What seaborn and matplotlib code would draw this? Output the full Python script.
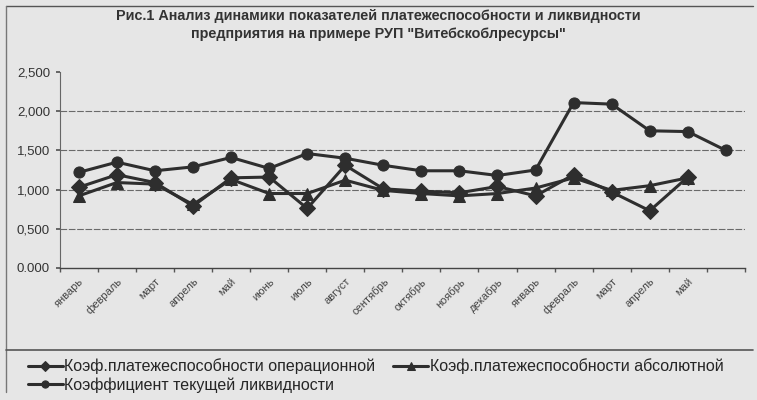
import numpy as np
import pandas as pd
import seaborn as sns
import matplotlib.pyplot as plt
from matplotlib.lines import Line2D
from matplotlib.ticker import FixedLocator

months = ["январь", "февраль", "март", "апрель", "май", "июнь", "июль", "август",
          "сентябрь", "октябрь", "ноябрь", "декабрь", "январь", "февраль", "март",
          "апрель", "май", ""]

oper = [1.03, 1.19, 1.09, 0.79, 1.15, 1.16, 0.76, 1.31, 1.01, 0.98, 0.96, 1.04,
        0.92, 1.19, 0.97, 0.73, 1.16, np.nan]
absol = [0.92, 1.09, 1.07, 0.81, 1.13, 0.95, 0.95, 1.12, 0.99, 0.95, 0.92, 0.95,
         1.02, 1.15, 0.99, 1.05, 1.15, np.nan]
liq = [1.22, 1.35, 1.24, 1.29, 1.41, 1.27, 1.46, 1.40, 1.31, 1.24, 1.24, 1.18,
       1.25, 2.11, 2.09, 1.75, 1.74, 1.50]

names = ["Коэф.платежеспособности операционной",
         "Коэф.платежеспособности абсолютной",
         "Коэффициент текущей ликвидности"]

y_ticks = [0, 0.5, 1.0, 1.5, 2.0, 2.5]
y_labels = ["0.000", "0,500", "1,000", "1,500", "2,000", "2,500"]

title = ('Рис.1 Анализ динамики показателей платежеспособности и ликвидности\n'
         'предприятия на примере РУП "Витебскоблресурсы"')

df = pd.DataFrame({
    "pos": list(range(len(months))) * 3,
    "value": oper + absol + liq,
    "series": [names[0]] * len(months) + [names[1]] * len(months) + [names[2]] * len(months),
})

sns.set_theme(style="white")
plt.rcParams["font.family"] = ["Liberation Sans", "DejaVu Sans"]

bg = "#e6e6e6"
ink = "#2e2e2e"

fig = plt.figure(figsize=(7.57, 4.0), dpi=100, facecolor=bg)
ax = fig.add_axes([0.079, 0.33, 0.905, 0.49], facecolor=bg)

sns.lineplot(data=df, x="pos", y="value", hue="series", style="series",
             hue_order=names, style_order=names,
             palette=[ink, ink, ink], markers={names[0]: "D", names[1]: "^", names[2]: "o"},
             dashes=False, linewidth=2.2, markersize=8, markeredgecolor=ink,
             ax=ax, legend=True)

ax.set_xlim(-0.5, len(months) - 0.5)
ax.set_ylim(0, 2.5)
ax.set_yticks(y_ticks)
ax.set_yticklabels(y_labels, fontsize=9.5, color="#333")
ax.set_xticks(range(len(months)))
ax.set_xticklabels(months, rotation=45, ha="right", rotation_mode="anchor",
                   fontsize=8, color="#444")
ax.xaxis.set_minor_locator(FixedLocator(np.arange(-0.5, len(months), 1)))
ax.tick_params(axis="x", which="major", length=0, pad=6)
ax.tick_params(axis="x", which="minor", length=3, color="#555", direction="out", bottom=True)
ax.tick_params(axis="y", length=3, color="#555", direction="out", left=True, pad=4)
ax.set_xlabel("")
ax.set_ylabel("")

for v in y_ticks[1:-1]:
    ax.axhline(v, color="#6a6a6a", lw=0.8, ls=(0, (6, 1.5)), zorder=0)

sns.despine(ax=ax, top=True, right=True)
ax.spines["left"].set_color("#666")
ax.spines["bottom"].set_color("#444")
ax.spines["left"].set_linewidth(0.8)
ax.spines["bottom"].set_linewidth(1.0)

handles, labels = ax.get_legend_handles_labels()
ax.get_legend().remove()
order = [0, 2, 1]
fig.legend([handles[i] for i in order], [labels[i] for i in order],
           loc="upper left", bbox_to_anchor=(0.028, 0.12), ncol=2, frameon=False,
           fontsize=11.5, handlelength=2.2, handletextpad=0.1, columnspacing=1.1,
           labelspacing=0.2, borderaxespad=0, markerscale=0.65)

fig.text(0.5, 0.937, title, ha="center", va="center", fontsize=10.4,
         fontweight="bold", color="#333", linespacing=1.4)

# frame of the scanned chart
fig.add_artist(Line2D([0.008, 0.995], [0.985, 0.985], color="#555", lw=1.0))
fig.add_artist(Line2D([0.008, 0.008], [0.02, 0.985], color="#777", lw=1.0))
fig.add_artist(Line2D([0.008, 0.995], [0.125, 0.125], color="#555", lw=1.2))

fig.savefig("out.png", dpi=100, facecolor=bg)
